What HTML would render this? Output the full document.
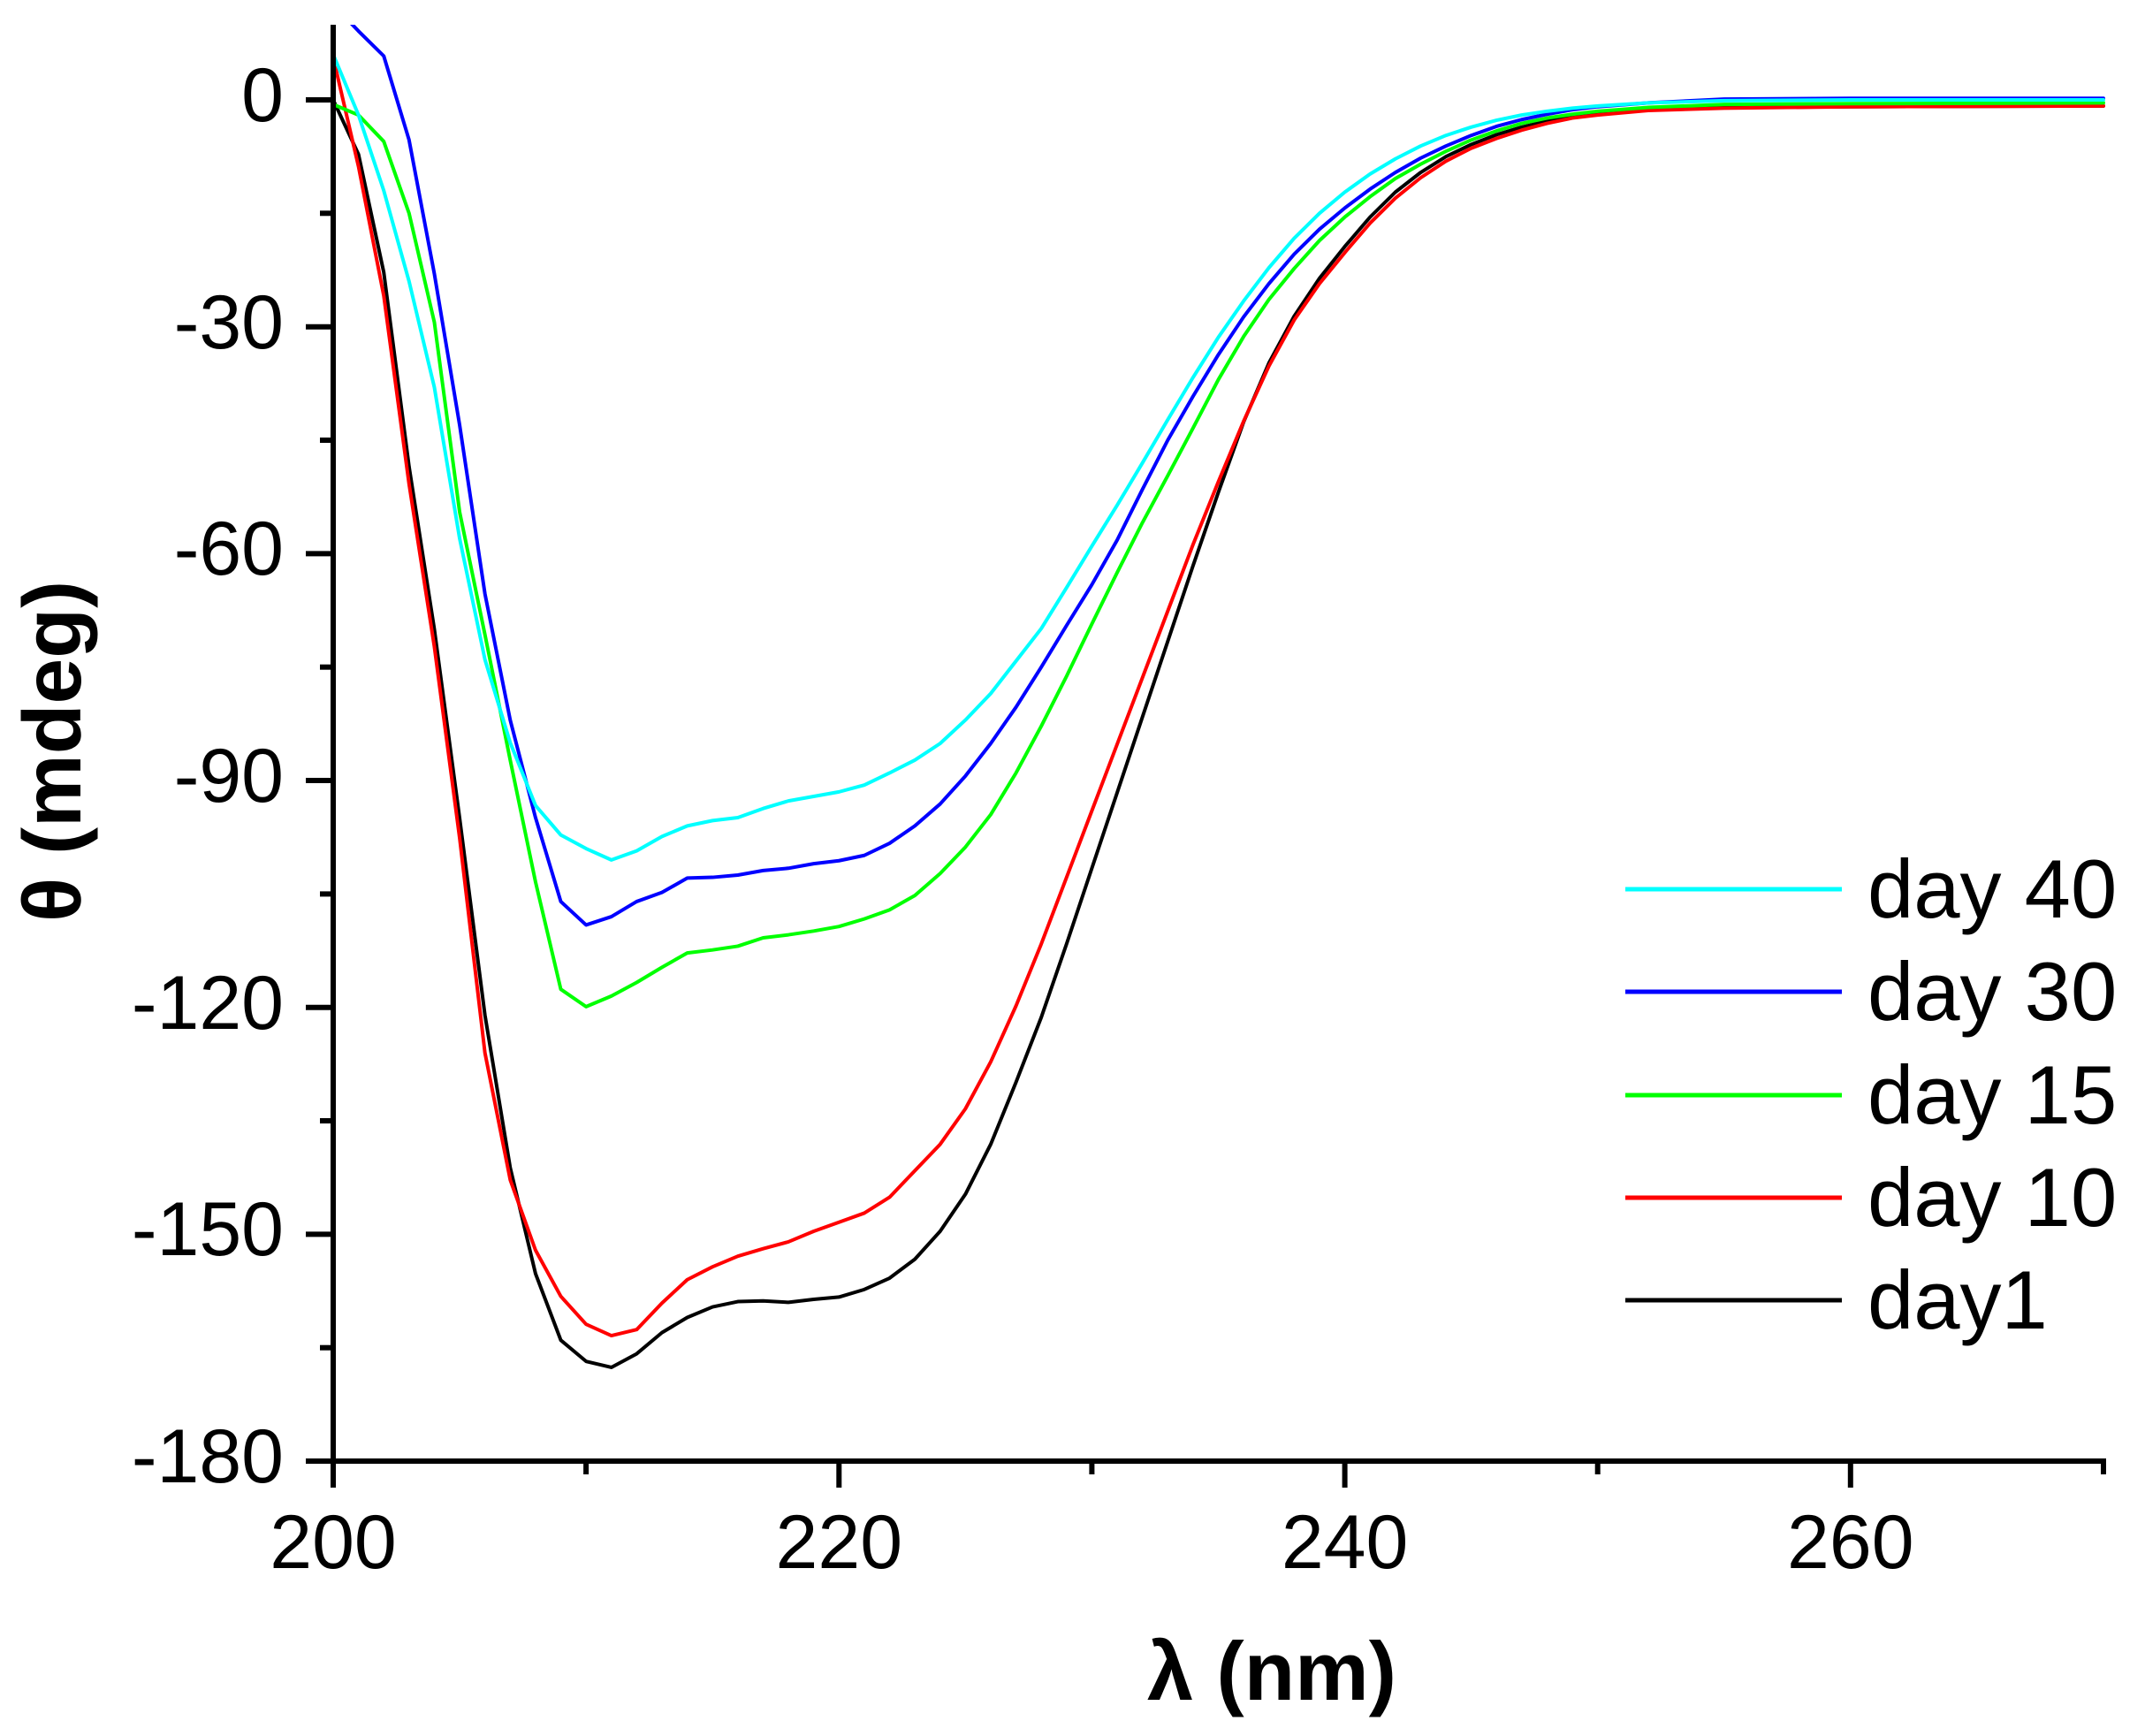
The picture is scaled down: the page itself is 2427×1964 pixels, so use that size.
<!DOCTYPE html>
<html>
<head>
<meta charset="utf-8">
<style>
  html, body { margin: 0; padding: 0; background: #ffffff; }
  svg { display: block; }
  text { font-family: "Liberation Sans", Arial, sans-serif; fill: #000; }
</style>
</head>
<body>
<svg width="2427" height="1964" viewBox="0 0 2427 1964" xmlns="http://www.w3.org/2000/svg">
  <rect x="0" y="0" width="2427" height="1964" fill="#ffffff"/>
  <defs>
    <clipPath id="plotclip">
      <rect x="377" y="28" width="2010" height="1630"/>
    </clipPath>
  </defs>

  <!-- data series -->
  <g clip-path="url(#plotclip)">
    <g transform="matrix(28.614 0 0 -8.556 -5345.8 113)" fill="none" stroke-linejoin="round" stroke-linecap="round">
      <polyline vector-effect="non-scaling-stroke" stroke="#000000" stroke-width="4" points="200,0 201,-7.2 202,-22.8 203,-48.5 204,-70 205,-95 206,-121 207,-141.2 208,-155.2 209,-164 210,-166.8 211,-167.6 212,-165.8 213,-163 214,-161 215,-159.6 216,-158.9 217,-158.8 218,-159 219,-158.6 220,-158.3 221,-157.3 222,-155.8 223,-153.3 224,-149.6 225,-144.7 226,-138.1 227,-129.9 228,-121.3 229,-111.6 230,-101.6 231,-91.6 232,-81.6 233,-71.6 234,-61.6 235,-51.9 236,-42.6 237,-34.8 238,-28.6 239,-23.6 240,-19.4 241,-15.5 242,-12.2 243,-9.6 244,-7.5 245,-5.9 246,-4.6 247,-3.6 248,-2.8 249,-2.2 250,-1.8 252,-1.3 255,-1 260,-0.9 270,-0.8"/>
      <polyline vector-effect="non-scaling-stroke" stroke="#ff0000" stroke-width="4" points="200,5.6 201,-8.8 202,-25.9 203,-50.8 204,-72.3 205,-97.6 206,-126 207,-142.8 208,-152.1 209,-158.2 210,-161.9 211,-163.4 212,-162.6 213,-159.1 214,-156 215,-154.3 216,-152.9 217,-151.9 218,-151 219,-149.6 220,-148.4 221,-147.2 222,-145.1 223,-141.6 224,-138.1 225,-133.4 226,-127.2 227,-119.8 228,-111.6 229,-102.8 230,-94 231,-85.2 232,-76.4 233,-67.6 234,-58.8 235,-50.5 236,-42.5 237,-35.2 238,-29.1 239,-24.3 240,-20.2 241,-16.3 242,-13 243,-10.3 244,-8.1 245,-6.4 246,-5.1 247,-4 248,-3.1 249,-2.4 250,-2 252,-1.4 255,-1.1 260,-0.9 270,-0.8"/>
      <polyline vector-effect="non-scaling-stroke" stroke="#00ff00" stroke-width="4" points="200,-0.6 201,-2 202,-5.5 203,-15 204,-29.4 205,-54.5 206,-70.7 207,-87.3 208,-103.4 209,-117.6 210,-119.9 211,-118.5 212,-116.7 213,-114.7 214,-112.8 215,-112.4 216,-111.9 217,-110.8 218,-110.4 219,-109.9 220,-109.3 221,-108.3 222,-107.1 223,-105.2 224,-102.3 225,-98.8 226,-94.5 227,-89 228,-82.8 229,-76.2 230,-69.3 231,-62.5 232,-55.9 233,-49.7 234,-43.4 235,-37 236,-31.3 237,-26.4 238,-22.3 239,-18.6 240,-15.5 241,-12.8 242,-10.4 243,-8.5 244,-6.8 245,-5.3 246,-4.1 247,-3.1 248,-2.4 249,-1.9 250,-1.5 252,-1 255,-0.6 260,-0.5 270,-0.4"/>
      <polyline vector-effect="non-scaling-stroke" stroke="#0000ff" stroke-width="4" points="200,12.6 201,9.1 202,5.8 203,-5.3 204,-23 205,-43 206,-65.3 207,-82 208,-94.9 209,-106 210,-109.1 211,-108 212,-106 213,-104.8 214,-102.9 215,-102.8 216,-102.5 217,-101.9 218,-101.6 219,-101 220,-100.6 221,-99.9 222,-98.3 223,-96 224,-93.1 225,-89.4 226,-85.1 227,-80.3 228,-75 229,-69.5 230,-64.1 231,-58.2 232,-51.5 233,-45 234,-39.2 235,-33.7 236,-28.7 237,-24.3 238,-20.4 239,-17.1 240,-14.3 241,-11.8 242,-9.6 243,-7.7 244,-6.1 245,-4.7 246,-3.5 247,-2.6 248,-1.9 249,-1.3 250,-0.9 252,-0.4 255,0.1 260,0.2 270,0.2"/>
      <polyline vector-effect="non-scaling-stroke" stroke="#00ffff" stroke-width="4" points="200,6 201,-2 202,-12 203,-24 204,-38 205,-58 206,-74 207,-85 208,-93.3 209,-97.2 210,-99 211,-100.5 212,-99.3 213,-97.4 214,-96 215,-95.3 216,-94.9 217,-93.7 218,-92.7 219,-92.1 220,-91.5 221,-90.6 222,-89 223,-87.3 224,-85.1 225,-82 226,-78.5 227,-74.2 228,-69.9 229,-64.5 230,-59 231,-53.6 232,-48 233,-42.3 234,-36.7 235,-31.4 236,-26.6 237,-22.2 238,-18.3 239,-15 240,-12.2 241,-9.8 242,-7.8 243,-6.1 244,-4.7 245,-3.6 246,-2.7 247,-2 248,-1.5 249,-1.1 250,-0.8 252,-0.4 255,-0.1 260,0 270,0"/>
    </g>
  </g>

  <!-- axes -->
  <g stroke="#000" stroke-width="6" fill="none" stroke-linecap="butt">
    <line x1="377" y1="28" x2="377" y2="1683"/>
    <line x1="346" y1="1653" x2="2383" y2="1653"/>
    <!-- y major ticks -->
    <line x1="346" y1="113" x2="377" y2="113"/>
    <line x1="346" y1="369.7" x2="377" y2="369.7"/>
    <line x1="346" y1="626.4" x2="377" y2="626.4"/>
    <line x1="346" y1="883" x2="377" y2="883"/>
    <line x1="346" y1="1139.7" x2="377" y2="1139.7"/>
    <line x1="346" y1="1396.4" x2="377" y2="1396.4"/>
    <!-- y minor ticks -->
    <line x1="362" y1="241.3" x2="377" y2="241.3"/>
    <line x1="362" y1="498" x2="377" y2="498"/>
    <line x1="362" y1="754.7" x2="377" y2="754.7"/>
    <line x1="362" y1="1011.4" x2="377" y2="1011.4"/>
    <line x1="362" y1="1268" x2="377" y2="1268"/>
    <line x1="362" y1="1524.7" x2="377" y2="1524.7"/>
    <!-- x major ticks -->
    <line x1="949.3" y1="1653" x2="949.3" y2="1683"/>
    <line x1="1521.6" y1="1653" x2="1521.6" y2="1683"/>
    <line x1="2093.8" y1="1653" x2="2093.8" y2="1683"/>
    <!-- x minor ticks -->
    <line x1="663.1" y1="1653" x2="663.1" y2="1668"/>
    <line x1="1235.4" y1="1653" x2="1235.4" y2="1668"/>
    <line x1="1807.7" y1="1653" x2="1807.7" y2="1668"/>
    <line x1="2380" y1="1653" x2="2380" y2="1668"/>
  </g>

  <!-- y tick labels -->
  <g font-size="86" text-anchor="end">
    <text x="321" y="137">0</text>
    <text x="321" y="394">-30</text>
    <text x="321" y="650">-60</text>
    <text x="321" y="907">-90</text>
    <text x="321" y="1164">-120</text>
    <text x="321" y="1420">-150</text>
    <text x="321" y="1677">-180</text>
  </g>

  <!-- x tick labels -->
  <g font-size="86" text-anchor="middle">
    <text x="377" y="1774">200</text>
    <text x="949.3" y="1774">220</text>
    <text x="1521.6" y="1774">240</text>
    <text x="2093.8" y="1774">260</text>
  </g>

  <!-- axis titles -->
  <text x="1439" y="1923" font-size="94" font-weight="bold" text-anchor="middle">λ (nm)</text>
  <text transform="translate(91,850) rotate(-90)" font-size="93" font-weight="bold" text-anchor="middle">θ (mdeg)</text>

  <!-- legend -->
  <g stroke-width="5" fill="none">
    <line x1="1839" y1="1006" x2="2084" y2="1006" stroke="#00ffff"/>
    <line x1="1839" y1="1122" x2="2084" y2="1122" stroke="#0000ff"/>
    <line x1="1839" y1="1239" x2="2084" y2="1239" stroke="#00ff00"/>
    <line x1="1839" y1="1355" x2="2084" y2="1355" stroke="#ff0000"/>
    <line x1="1839" y1="1471" x2="2084" y2="1471" stroke="#000000"/>
  </g>
  <g font-size="94">
    <text x="2113" y="1038">day 40</text>
    <text x="2113" y="1154">day 30</text>
    <text x="2113" y="1271">day 15</text>
    <text x="2113" y="1387">day 10</text>
    <text x="2113" y="1503">day1</text>
  </g>
</svg>
</body>
</html>
